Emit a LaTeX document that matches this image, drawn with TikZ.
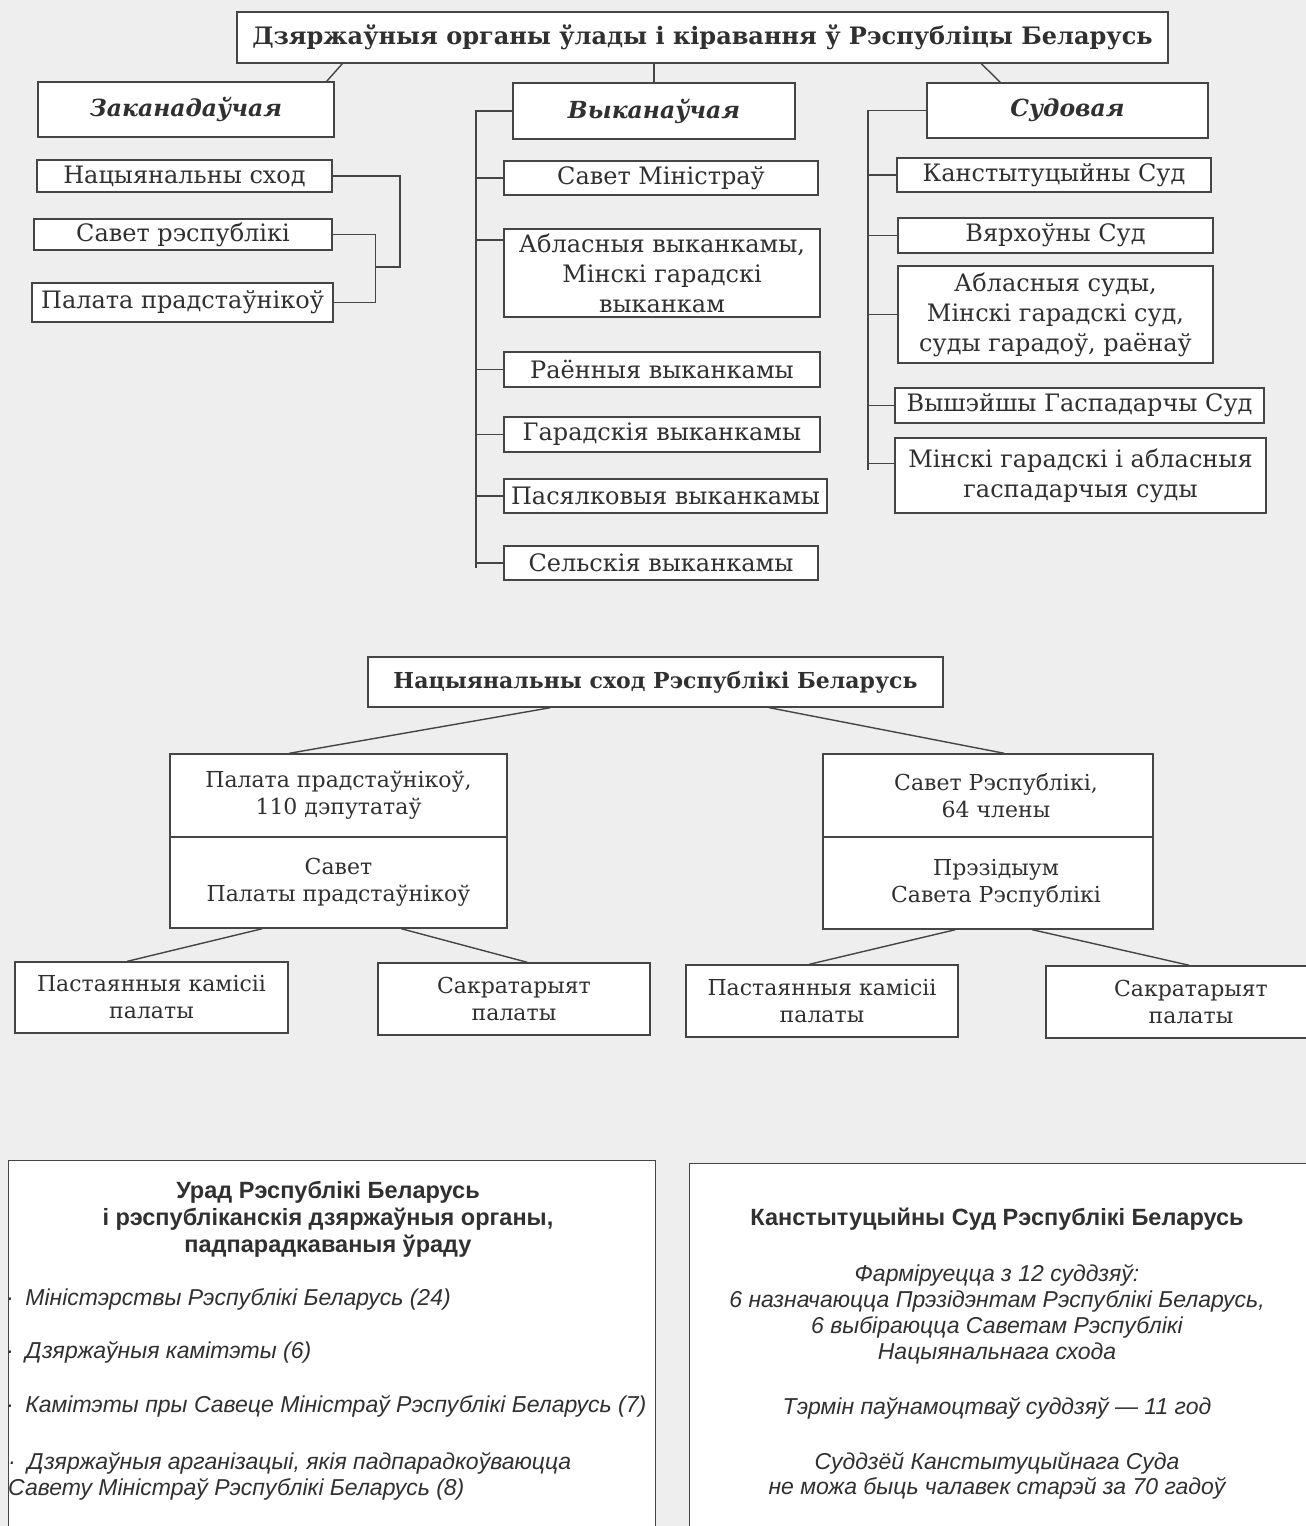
\documentclass[tikz,border=0pt]{standalone}
\usepackage{fontspec}
\setmainfont{DejaVu Serif}
\setsansfont{Liberation Sans}
\definecolor{ink}{HTML}{303030}
\definecolor{rule}{HTML}{454545}
\definecolor{paper}{HTML}{EEEEEE}
\tikzset{
  sz/.style 2 args={minimum width=#1pt,minimum height=#2pt},
  box/.style={draw=rule,line width=1.4pt,fill=white,text=ink,align=center,inner sep=0pt,
    font=\fontsize{24}{30}\selectfont},
  title/.style={box,font=\bfseries\fontsize{24}{28}\selectfont},
  branch/.style={box,font=\bfseries\itshape\fontsize{23.5}{28}\selectfont},
  box2/.style={box,font=\fontsize{22}{27}\selectfont},
  head2/.style={box,font=\bfseries\fontsize{22}{27}\selectfont},
  panel/.style={draw=rule,line width=1.4pt,fill=white,inner sep=0pt},
  sanshead/.style={text=ink,align=center,inner sep=0pt,font=\sffamily\bfseries\fontsize{23.5}{27}\selectfont},
  sansit/.style={text=ink,align=center,inner sep=0pt,font=\sffamily\itshape\fontsize{23}{26}\selectfont},
  item/.style={sansit,align=left,anchor=west},
  link/.style={draw=rule,line width=1.4pt}
}
\begin{document}
\begin{tikzpicture}[x=1pt,y=-1pt]
\useasboundingbox (0,0) rectangle (1306,1526);
\clip (0,0) rectangle (1306,1526);
\fill[paper] (0,0) rectangle (1306,1526);

% upper scheme
\node[title,sz={931}{51}] (title) at (702.5,37.5) {Дзяржаўныя органы ўлады і кіравання ў Рэспубліцы Беларусь};
\node[branch,sz={296}{55}] (zak) at (186,109.5) {Заканадаўчая};
\node[branch,sz={282}{56}] (vyk) at (654,111) {Выканаўчая};
\node[branch,sz={281}{55}] (sud) at (1067.5,110.5) {Судовая};

\node[box,sz={295}{32}] (ns) at (184.5,176) {Нацыянальны сход};
\node[box,sz={298}{31}] (sr) at (183,234.5) {Савет рэспублікі};
\node[box,sz={301}{39}] (pp) at (182.5,302.5) {Палата прадстаўнікоў};

\node[box,sz={314}{34}] (sm) at (661,178) {Савет Міністраў};
\node[box,sz={316}{88}] (ab) at (662,273) {Абласныя выканкамы,\\Мінскі гарадскі\\выканкам};
\node[box,sz={316}{35}] (ra) at (662,369.5) {Раённыя выканкамы};
\node[box,sz={316}{35}] (ga) at (662,434.5) {Гарадскія выканкамы};
\node[box,sz={323}{34}] (pa) at (665.5,496) {Пасялковыя выканкамы};
\node[box,sz={314}{34}] (se) at (661,563) {Сельскія выканкамы};

\node[box,sz={314}{34}] (ks) at (1054,175) {Канстытуцыйны Суд};
\node[box,sz={315}{35}] (vs) at (1055.5,235.5) {Вярхоўны Суд};
\node[box,sz={315}{97}] (as) at (1055.5,314.5) {Абласныя суды,\\Мінскі гарадскі суд,\\суды гарадоў, раёнаў};
\node[box,sz={369}{35}] (vgs) at (1079.5,405.5) {Вышэйшы Гаспадарчы Суд};
\node[box,sz={371}{75}] (mgs) at (1080.5,475.5) {Мінскі гарадскі і абласныя\\гаспадарчыя суды};

\draw[link] ([xshift=106pt]title.south west) -- ([xshift=-8pt]zak.north east);
\draw[link] (vyk.north) -- (vyk.north |- title.south);
\draw[link] ([xshift=745pt]title.south west) -- ([xshift=74pt]sud.north west);

\draw[link] (sr.east) -| ([xshift=42pt]pp.east) -- (pp.east);
\coordinate (brm) at (375,267);
\draw[link] (brm) -- ++(25,0) |- (ns.east);

\coordinate (vbot) at (476,568);
\draw[link] (vyk.west) -| (vbot);
\foreach \n in {sm,ra,ga,pa,se}
  \draw[link] (\n.west) -- (\n.west -| vbot);
\draw[link] ([yshift=33pt]ab.west) -- ([yshift=33pt]ab.west -| vbot);

\coordinate (sbot) at (868,470);
\draw[link] (sud.west) -| (sbot);
\foreach \n in {ks,vs,as,vgs}
  \draw[link] (\n.west) -- (\n.west -| sbot);
\draw[link] ([yshift=12pt]mgs.west) -- ([yshift=12pt]mgs.west -| sbot);

% parliament
\node[head2,sz={575}{50}] (nsrb) at (655.5,682) {Нацыянальны сход Рэспублікі Беларусь};
\node[box2,sz={337}{83}] (pala) at (338.5,795.5) {Палата прадстаўнікоў,\\110 дэпутатаў};
\node[box2,sz={337}{91}] (palb) at (338.5,882.5) {Савет\\Палаты прадстаўнікоў};
\node[box2,sz={330}{83}] (sava) at (988,795.5) {\hspace*{16pt}Савет Рэспублікі,\\\hspace*{16pt}64 члены};
\node[box2,sz={330}{92}] (savb) at (988,883) {\hspace*{16pt}Прэзідыум\\\hspace*{16pt}Савета Рэспублікі};
\node[box2,sz={273}{71}] (pk1) at (151.5,997.5) {Пастаянныя камісіі\\палаты};
\node[box2,sz={272}{72}] (sk1) at (514,999) {Сакратарыят\\палаты};
\node[box2,sz={272}{72}] (pk2) at (822,1001) {Пастаянныя камісіі\\палаты};
\node[box2,sz={290}{72}] (sk2) at (1191,1002) {Сакратарыят\\палаты};

\draw[link] ([xshift=183pt]nsrb.south west) -- ([xshift=120pt]pala.north west);
\draw[link] ([xshift=402pt]nsrb.south west) -- ([xshift=182pt]sava.north west);
\draw[link] ([xshift=93pt]palb.south west) -- ([xshift=113pt]pk1.north west);
\draw[link] ([xshift=232pt]palb.south west) -- ([xshift=150pt]sk1.north west);
\draw[link] ([xshift=133pt]savb.south west) -- ([xshift=124pt]pk2.north west);
\draw[link] ([xshift=210pt]savb.south west) -- ([xshift=144pt]sk2.north west);

% lower panels
\node[panel,sz={647}{420},anchor=north west] (urad) at (8,1160) {};
\node[panel,sz={660}{420},anchor=north west] (kss) at (689,1163) {};

\node[sanshead] (uradt) at (328,1219) {Урад Рэспублікі Беларусь\\і рэспубліканскія дзяржаўныя органы,\\падпарадкаваныя ўраду};
\node[item] (u1) at (6,1299) {·\enspace Міністэрствы Рэспублікі Беларусь (24)};
\node[item] (u2) at (6,1352) {·\enspace Дзяржаўныя камітэты (6)};
\node[item] (u3) at (6,1406) {·\enspace Камітэты пры Савеце Міністраў Рэспублікі Беларусь (7)};
\node[item] (u4) at (8,1476) {·\enspace Дзяржаўныя арганізацыі, якія падпарадкоўваюцца\\Савету Міністраў Рэспублікі Беларусь (8)};

\node[sanshead] (kst) at (997,1219) {Канстытуцыйны Суд Рэспублікі Беларусь};
\node[sansit] (k1) at (997,1314) {Фарміруецца з 12 суддзяў:\\6 назначаюцца Прэзідэнтам Рэспублікі Беларусь,\\6 выбіраюцца Саветам Рэспублікі\\Нацыянальнага схода};
\node[sansit] (k2) at (997,1408) {Тэрмін паўнамоцтваў суддзяў — 11 год};
\node[sansit,font=\sffamily\itshape\fontsize{23}{25}\selectfont] (k3) at (997,1476) {Суддзёй Канстытуцыйнага Суда\\не можа быць чалавек старэй за 70 гадоў};
\end{tikzpicture}
\end{document}
